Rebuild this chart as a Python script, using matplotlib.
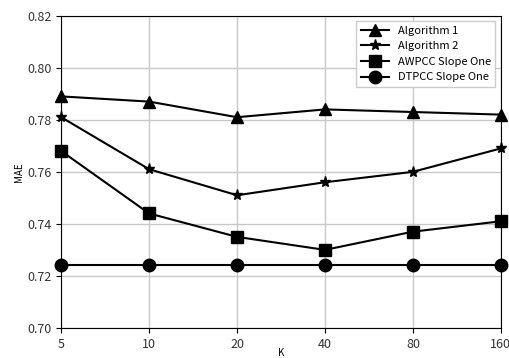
import matplotlib
matplotlib.use('Agg')

import matplotlib.pyplot as plt

plt.rcParams['font.family'] = ['Noto Sans CJK SC', 'DejaVu Sans']

k_labels = ["5", "10", "20", "40", "80", "160"]
alg1 = [0.789, 0.787, 0.781, 0.784, 0.783, 0.782]
alg2 = [0.781, 0.761, 0.751, 0.756, 0.760, 0.769]
awpcc = [0.768, 0.744, 0.735, 0.730, 0.737, 0.741]
dtpcc = [0.724, 0.724, 0.724, 0.724, 0.724, 0.724]

series = [
    ("Algorithm 1", alg1, "^", 9),
    ("Algorithm 2", alg2, "*", 8),
    ("AWPCC Slope One", awpcc, "s", 9),
    ("DTPCC Slope One", dtpcc, "o", 9),
]

fig = plt.figure(figsize=(5.1, 3.58), dpi=100)
ax = fig.add_axes([0.12, 0.084, 0.862, 0.872])

x = list(range(len(k_labels)))
for name, vals, m, ms in series:
    ax.plot(x, vals, color="black", marker=m, markersize=ms, linewidth=1.5,
            label=name, clip_on=False, zorder=3)

ax.set_xlim(0, len(k_labels) - 1)
ax.set_ylim(0.70, 0.82)
ax.set_xticks(x)
ax.set_xticklabels(k_labels)
ax.set_yticks([0.70, 0.72, 0.74, 0.76, 0.78, 0.80, 0.82])
ax.tick_params(labelsize=9, labelcolor="#333333")
ax.grid(True, color="#c8c8c8", linewidth=1)
ax.set_axisbelow(True)
ax.set_xlabel("K", fontsize=7, labelpad=-2)
ax.set_ylabel("MAE", fontsize=7, labelpad=2)

ax.legend(loc="upper right", fontsize=8, fancybox=False, framealpha=1,
          edgecolor="#cccccc", handlelength=2.5, borderaxespad=0.5)

fig.savefig("out.png", dpi=100)
